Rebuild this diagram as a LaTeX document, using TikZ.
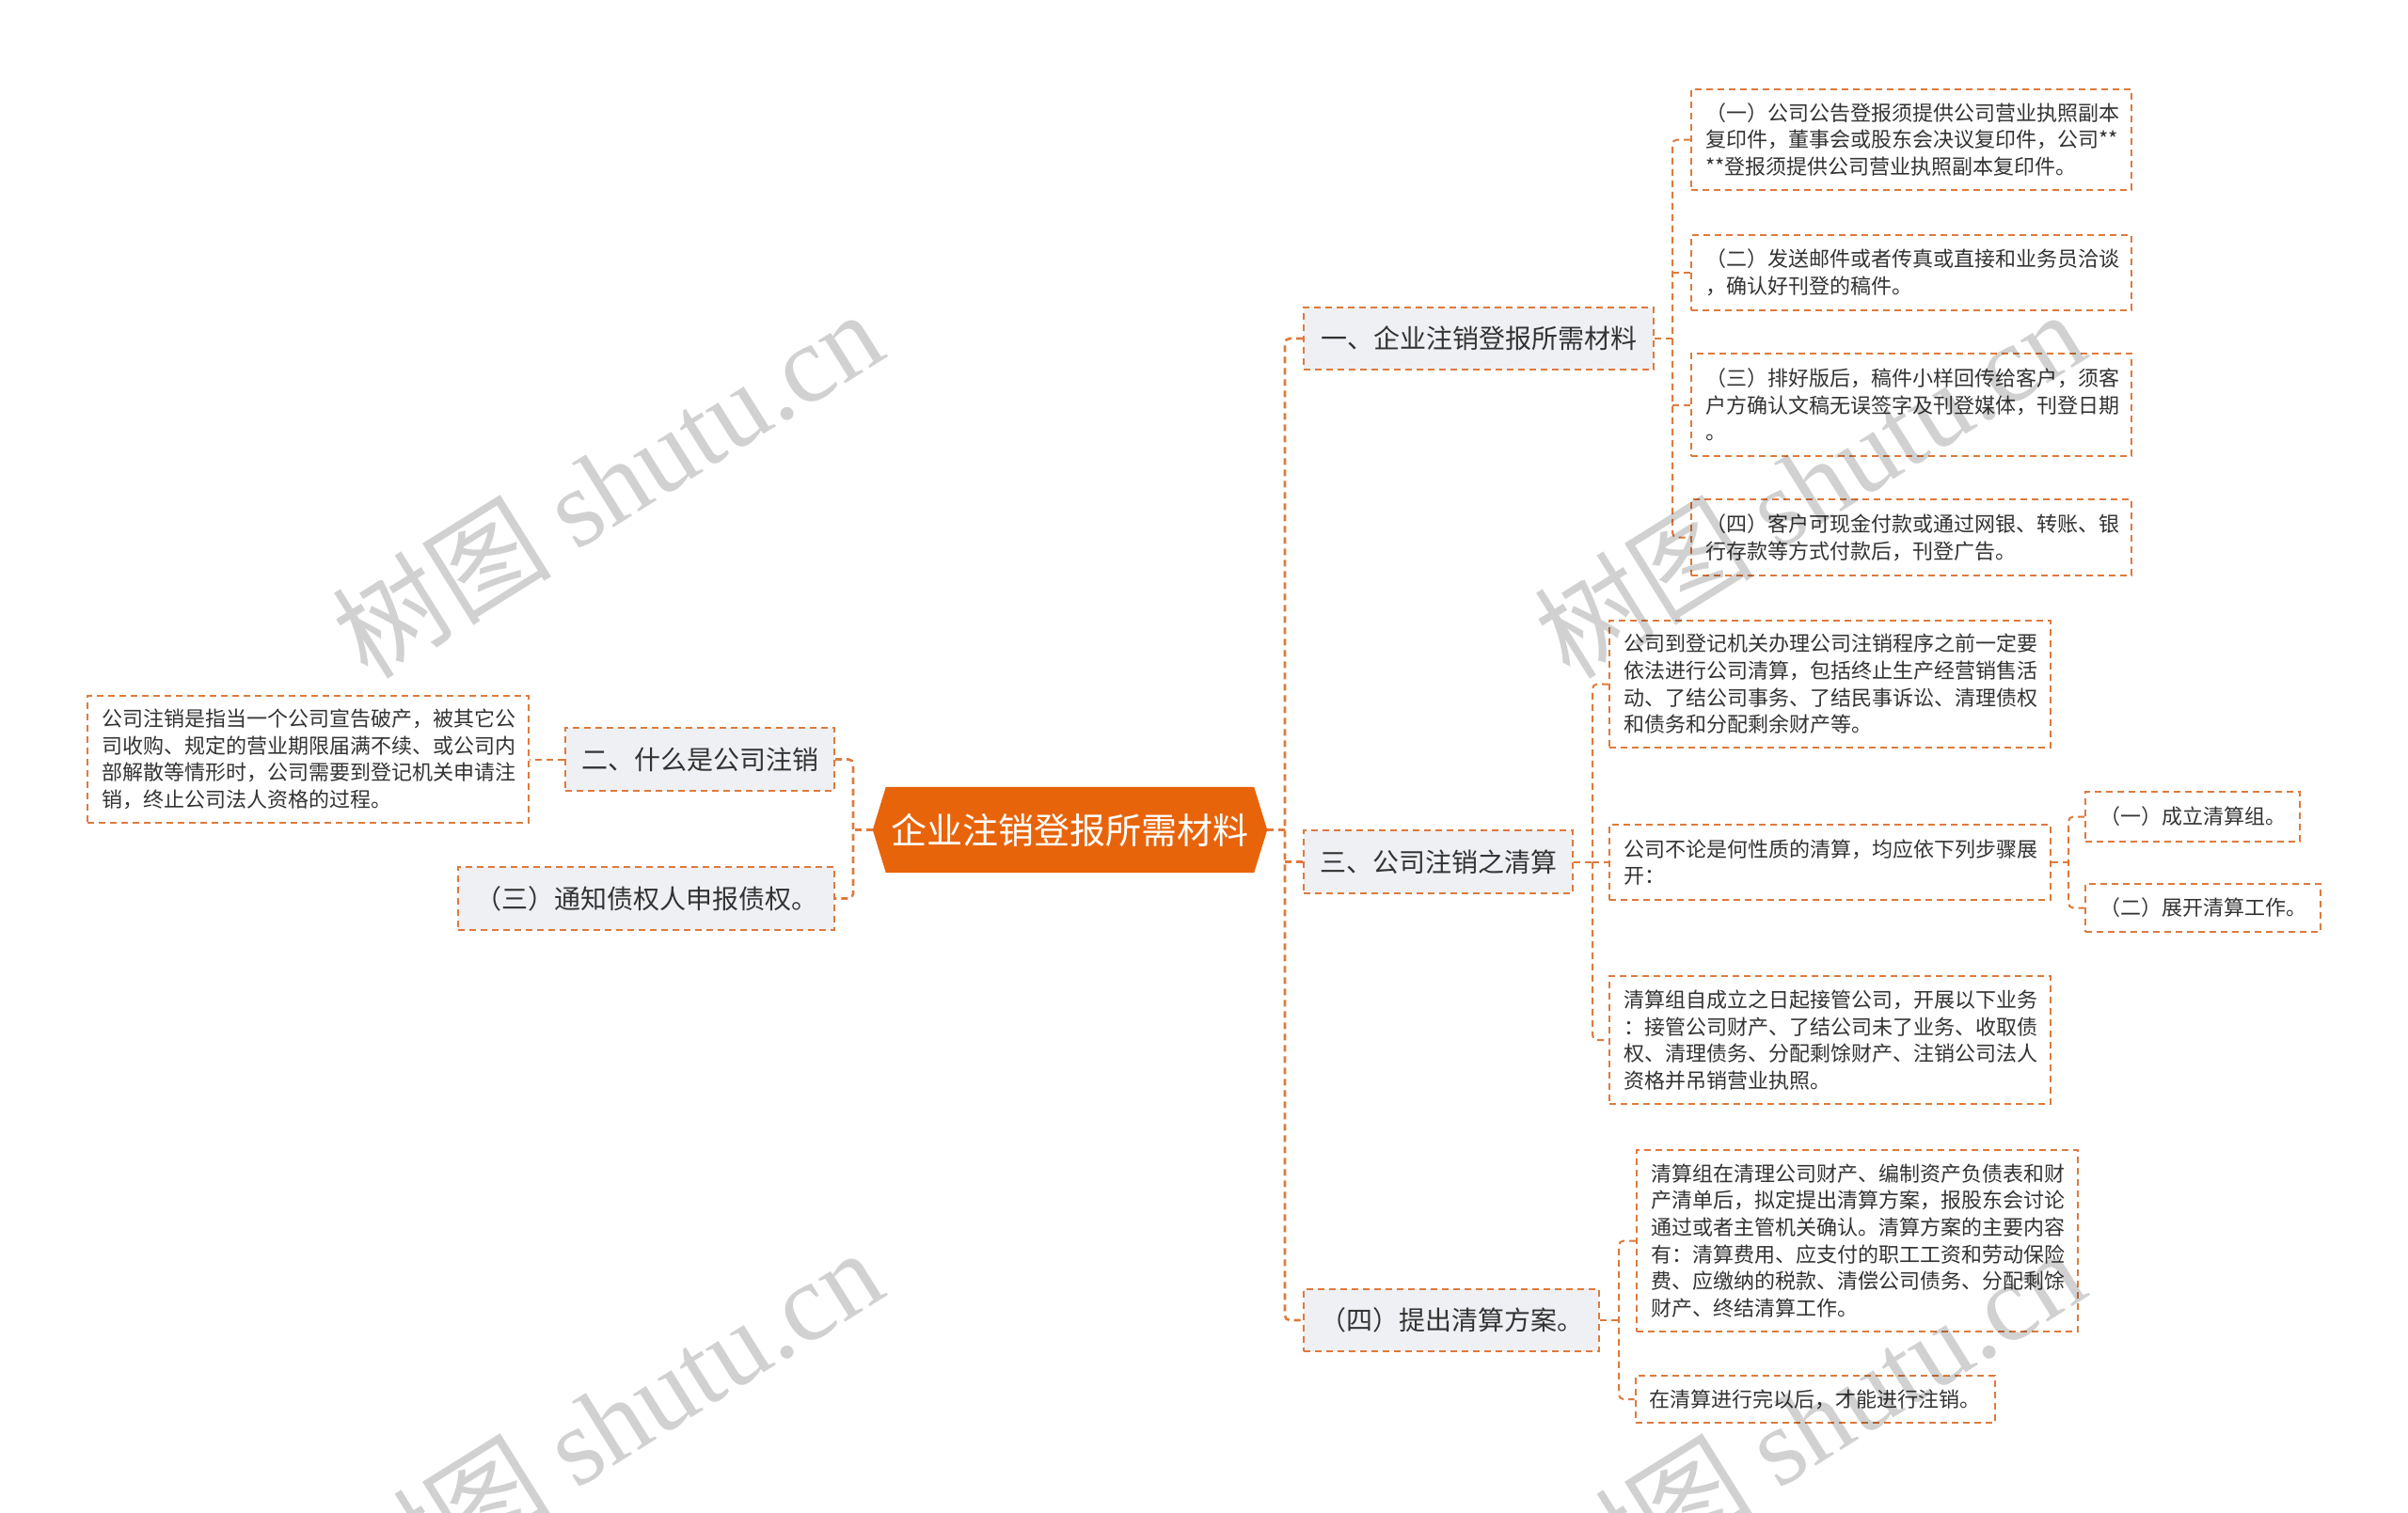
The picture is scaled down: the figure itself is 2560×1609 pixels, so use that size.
\documentclass[tikz,border=0pt]{standalone}
\usepackage{fontspec}
\setmainfont{Noto Sans CJK SC}
\newfontfamily\wmlat{Liberation Serif}
\usetikzlibrary{backgrounds}
\definecolor{oc}{HTML}{E8640A}
\definecolor{dc}{HTML}{DE7A3C}
\definecolor{bf}{HTML}{EEF0F3}
\definecolor{tc}{HTML}{333333}
\begin{document}
\begin{tikzpicture}[x=1pt,y=-1pt,
  box/.style={draw=dc, line width=2pt, dash pattern=on 7pt off 5pt, rectangle, inner sep=0pt, text=tc},
  br/.style={box, fill=bf, font=\fontsize{28}{34}\selectfont},
  leaf/.style={box, fill=white, font=\fontsize{22}{28.6}\selectfont, align=left},
  conn/.style={draw=dc, line width=2.6pt, dash pattern=on 7pt off 5pt, rounded corners=5pt},
  sconn/.style={draw=dc, line width=2pt, dash pattern=on 7pt off 5pt, rounded corners=5pt},
  wm/.style={text=black, opacity=0.18, rotate=32, font=\fontsize{117}{120}\selectfont}
]
\useasboundingbox (0,0) rectangle (2560,1609);

% root
\node[text=white, font=\fontsize{38}{42}\selectfont, minimum width=419pt, minimum height=91pt, inner sep=0pt] (root) at (1137.5,882.5) {企业注销登报所需材料};
\begin{scope}[on background layer]
\fill[white] (0,0) rectangle (2560,1609);
\fill[oc] ([xshift=14pt]root.north west) -- ([xshift=-14pt]root.north east) -- (root.east) -- ([xshift=-14pt]root.south east) -- ([xshift=14pt]root.south west) -- (root.west) -- cycle;
\end{scope}

% level 1 right
\node[br, minimum width=372pt, minimum height=66pt] (b1) at (1572,360) {一、企业注销登报所需材料};
\node[br, minimum width=286pt, minimum height=67pt] (b3) at (1529,916.5) {三、公司注销之清算};
\node[br, minimum width=314pt, minimum height=66pt] (b4) at (1543,1404) {（四）提出清算方案。};

% level 1 left
\node[br, minimum width=286pt, minimum height=67pt] (l2) at (744,807.5) {二、什么是公司注销};
\node[br, minimum width=400pt, minimum height=67pt] (l3) at (687,955.5) {（三）通知债权人申报债权。};

% leaves
\node[leaf, minimum width=469pt, minimum height=135pt, text width=439pt] (l1) at (327.5,807.5) {公司注销是指当一个公司宣告破产，被其它公\\司收购、规定的营业期限届满不续、或公司内\\部解散等情形时，公司需要到登记机关申请注\\销，终止公司法人资格的过程。};

\node[leaf, minimum width=468pt, minimum height=107pt, text width=438pt] (a1) at (2032,148.5) {（一）公司公告登报须提供公司营业执照副本\\复印件，董事会或股东会决议复印件，公司{**}\\{**}登报须提供公司营业执照副本复印件。};
\node[leaf, minimum width=468pt, minimum height=80pt, text width=438pt] (a2) at (2032,290) {（二）发送邮件或者传真或直接和业务员洽谈\\，确认好刊登的稿件。};
\node[leaf, minimum width=468pt, minimum height=109pt, text width=438pt] (a3) at (2032,430.5) {（三）排好版后，稿件小样回传给客户，须客\\户方确认文稿无误签字及刊登媒体，刊登日期\\。};
\node[leaf, minimum width=468pt, minimum height=81pt, text width=438pt] (a4) at (2032,571.5) {（四）客户可现金付款或通过网银、转账、银\\行存款等方式付款后，刊登广告。};

\node[leaf, minimum width=469pt, minimum height=135pt, text width=439pt] (c1) at (1945.5,727.5) {公司到登记机关办理公司注销程序之前一定要\\依法进行公司清算，包括终止生产经营销售活\\动、了结公司事务、了结民事诉讼、清理债权\\和债务和分配剩余财产等。};
\node[leaf, minimum width=469pt, minimum height=80pt, text width=439pt] (c2) at (1945.5,917) {公司不论是何性质的清算，均应依下列步骤展\\开：};
\node[leaf, minimum width=469pt, minimum height=136pt, text width=439pt] (c3) at (1945.5,1106) {清算组自成立之日起接管公司，开展以下业务\\：接管公司财产、了结公司未了业务、收取债\\权、清理债务、分配剩馀财产、注销公司法人\\资格并吊销营业执照。};
\node[leaf, minimum width=224pt, minimum height=53pt, inner xsep=15pt] (c2a) at (2331,868.5) {（一）成立清算组。};
\node[leaf, minimum width=246pt, minimum height=51pt, inner xsep=15pt] (c2b) at (2342,965.5) {（二）展开清算工作。};

\node[leaf, minimum width=469pt, minimum height=193pt, text width=439pt] (d1) at (1974.5,1319.5) {清算组在清理公司财产、编制资产负债表和财\\产清单后，拟定提出清算方案，报股东会讨论\\通过或者主管机关确认。清算方案的主要内容\\有：清算费用、应支付的职工工资和劳动保险\\费、应缴纳的税款、清偿公司债务、分配剩馀\\财产、终结清算工作。};
\node[leaf, minimum width=379pt, minimum height=50pt, inner xsep=15pt] (d2) at (1929.5,1488) {在清算进行完以后，才能进行注销。};

% connectors
\coordinate (sR) at (1366,882.5);
\coordinate (sL) at (907,882.5);
\draw[conn] (root.east) -- (sR);
\draw[conn] (b1.west) -| (sR) |- (b4.west);
\draw[conn] (sR |- b3.west) -- (b3.west);
\draw[conn] (root.west) -- (sL);
\draw[conn] (l2.east) -| (sL) |- (l3.east);
\draw[sconn] (l2.west) -- (l1.east);

\coordinate (sA) at (1778,360);
\draw[sconn] (b1.east) -- (sA);
\draw[sconn] (a1.west) -| (sA) |- (a4.west);
\draw[sconn] (sA |- a2.west) -- (a2.west);
\draw[sconn] (sA |- a3.west) -- (a3.west);

\coordinate (sC) at (1693,916.5);
\draw[sconn] (b3.east) -- (sC);
\draw[sconn] (c1.west) -| (sC) |- (c3.west);
\draw[sconn] (sC |- c2.west) -- (c2.west);

\coordinate (sC2) at (2199,917);
\draw[sconn] (c2.east) -- (sC2);
\draw[sconn] (c2a.west) -| (sC2) |- (c2b.west);

\coordinate (sD) at (1721,1404);
\draw[sconn] (b4.east) -- (sD);
\draw[sconn] (d1.west) -| (sD) |- (d2.west);

% watermarks
\node[wm] (w1) at (645,514) {树图 {\wmlat shutu.cn}};
\node[wm] (w2) at (1923,514) {树图 {\wmlat shutu.cn}};
\node[wm] (w3) at (645,1512) {树图 {\wmlat shutu.cn}};
\node[wm] (w4) at (1923,1512) {树图 {\wmlat shutu.cn}};
\end{tikzpicture}
\end{document}
